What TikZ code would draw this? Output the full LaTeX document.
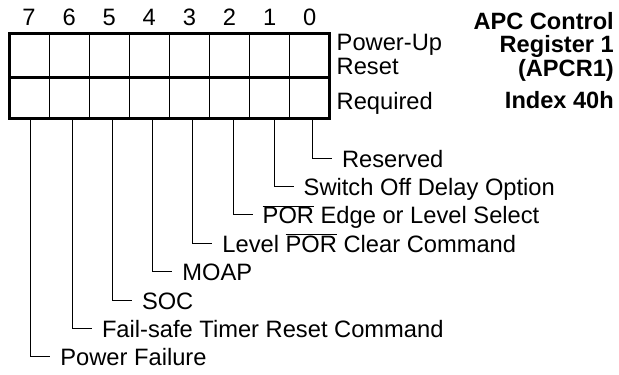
\documentclass[tikz,border=0pt]{standalone}
\usepackage{fontspec}
\setmainfont{Liberation Sans}
\newcommand\ovl[1]{$\overline{\hbox{#1}}$}
\begin{document}
\begin{tikzpicture}[x=1pt,y=-1pt,
  lbl/.style={anchor=base west,inner sep=0pt,font=\fontsize{23.7}{28}\selectfont},
  ttl/.style={anchor=base east,inner sep=0pt,font=\fontsize{23.6}{28}\selectfont\bfseries},
  dig/.style={anchor=base,inner sep=0pt,font=\fontsize{23.7}{28}\selectfont},
  thin/.style={line width=1.1pt},
  thick/.style={line width=3pt},
  conn/.style={line width=1pt}]
\useasboundingbox (0,0) rectangle (619,375);
% register grid
\foreach \k in {1,...,7} \draw[thin] ({9+40.1*\k},33) -- ({9+40.1*\k},118);
\draw[thick] (9,33) rectangle (329.8,118);
\draw[thick] (9,77) -- (329.8,77);
% bit numbers
\foreach \k/\b in {0/7,1/6,2/5,3/4,4/3,5/2,6/1,7/0}
  \node[dig] (d\b) at ({29+40.1*\k},25) {\b};
% right-hand labels
\node[lbl] (pu) at (336.5,50) {Power-Up};
\node[lbl] (rs) at (336.5,74) {Reset};
\node[lbl] (rq) at (336.5,109) {Required};
% title
\node[ttl] (t1) at (614,29) {APC Control};
\node[ttl] (t2) at (614,52.5) {Register 1};
\node[ttl] (t3) at (614,76.5) {(APCR1)};
\node[ttl] (t4) at (614,108) {Index 40h};
% bit descriptions
\foreach \b/\x/\y/\t in {
  0/312.3/158/Reserved,
  1/274/186.4/Switch Off Delay Option,
  2/233/214.8/{\ovl{POR} Edge or Level Select},
  3/192.7/243.2/{Level \ovl{POR} Clear Command},
  4/152.7/271.6/MOAP,
  5/112.3/300/SOC,
  6/72.3/328.4/Fail-safe Timer Reset Command,
  7/30.7/356.8/Power Failure}{
  \coordinate (b\b) at (\x,118);
  \coordinate (e\b) at (\x+19.5,\y);
  \node[lbl] (l\b) at (\x+29.5,\y+9) {\t};
  \draw[conn] (b\b) |- (e\b);
}
\end{tikzpicture}
\end{document}
